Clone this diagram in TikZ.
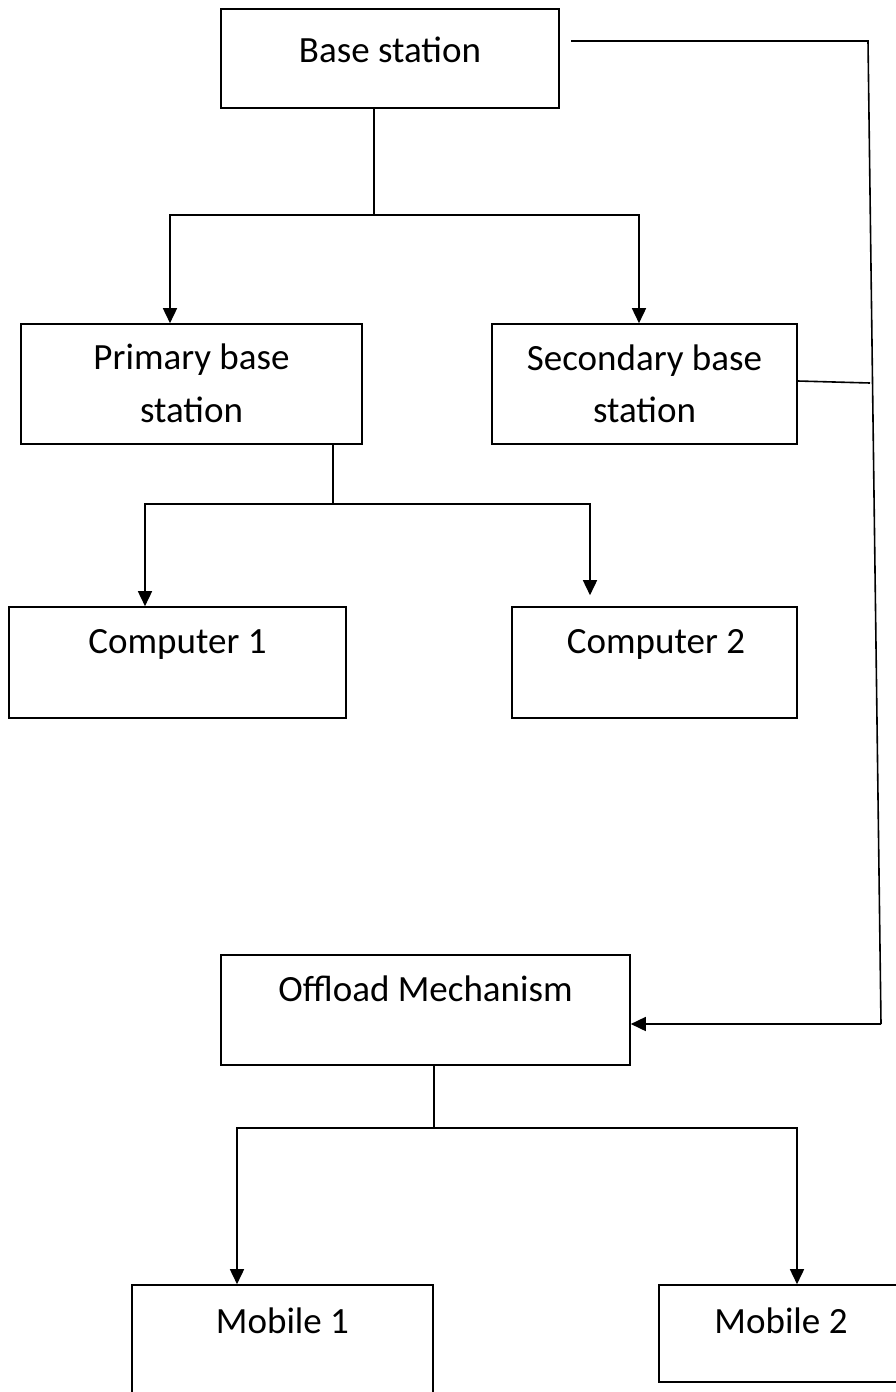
\documentclass[tikz,border=0pt]{standalone}
\usepackage{fontspec}
\setmainfont{Carlito}
\usetikzlibrary{arrows.meta}
\begin{document}
\begin{tikzpicture}[x=1pt,y=-1pt,
  box/.style={draw, line width=1.6pt, inner sep=0pt},
  lbl/.style={inner sep=0pt, anchor=base, font=\fontsize{37}{45}\selectfont},
  wire/.style={line width=1.6pt},
  arr/.style={wire, -{Triangle[width=14pt,length=15pt]}}]
\useasboundingbox (0,0) rectangle (895,1392);
\fill[white] (0,0) rectangle (895,1392);

% boxes
\node[box, minimum width=338pt, minimum height=99pt]  (base) at (390,58.5)   {};
\node[box, minimum width=341pt, minimum height=120pt] (prim) at (191.5,384)  {};
\node[box, minimum width=305pt, minimum height=120pt] (sec)  at (644.5,384)  {};
\node[box, minimum width=337pt, minimum height=111pt] (comp1) at (177.5,662.5) {};
\node[box, minimum width=285pt, minimum height=111pt] (comp2) at (654.5,662.5) {};
\node[box, minimum width=409pt, minimum height=110pt] (off)  at (425.5,1010) {};
\node[box, minimum width=301pt, minimum height=130pt] (mob1) at (282.5,1350) {};
\node[box, minimum width=244pt, minimum height=97pt]  (mob2) at (781,1333.5) {};

% labels
\node[lbl] (baseT)  at (390,62)    {Base station};
\node[lbl] (primT1) at (191.5,369) {Primary base};
\node[lbl] (primT2) at (191.5,422) {station};
\node[lbl] (secT1)  at (644.5,370) {Secondary base};
\node[lbl] (secT2)  at (644.5,422) {station};
\node[lbl] (comp1T) at (177.5,653) {Computer 1};
\node[lbl] (comp2T) at (656,653)   {Computer 2};
\node[lbl] (offT)   at (425.5,1001) {Offload Mechanism};
\node[lbl] (mob1T)  at (282.5,1333) {Mobile 1};
\node[lbl] (mob2T)  at (781,1333)   {Mobile 2};

% base station to the two base stations
\coordinate (j1) at (374,215);
\draw[wire] ([xshift=-16pt]base.south) -- (j1);
\draw[arr] (j1) -| ([xshift=-21.5pt]prim.north);
\draw[arr] (j1) -| ([xshift=-5.5pt]sec.north);

% primary base station to the computers
\coordinate (j2) at (333,504);
\draw[wire] ([xshift=141.5pt]prim.south) -- (j2);
\draw[arr] (j2) -| ([xshift=-32.5pt]comp1.north);
\draw[arr] (j2) -| ([xshift=-64.5pt,yshift=11pt]comp2.north);

% side link to the offload mechanism
\coordinate (c1) at (571,41);
\coordinate (c2) at (868,41);
\coordinate (c3) at (881,1024);
\coordinate (c4) at (870,383);
\draw[wire] (c1) -- (c2) -- (c3);
\draw[arr] (c3) -- (c3 -| off.east);
\draw[wire] ([yshift=3pt]sec.east) -- (c4);

% offload mechanism to the mobiles
\coordinate (j3) at (434,1128);
\draw[wire] ([xshift=8.5pt]off.south) -- (j3);
\draw[arr] (j3) -| ([xshift=-45.5pt]mob1.north);
\draw[arr] (j3) -| ([xshift=16pt]mob2.north);
\end{tikzpicture}
\end{document}
